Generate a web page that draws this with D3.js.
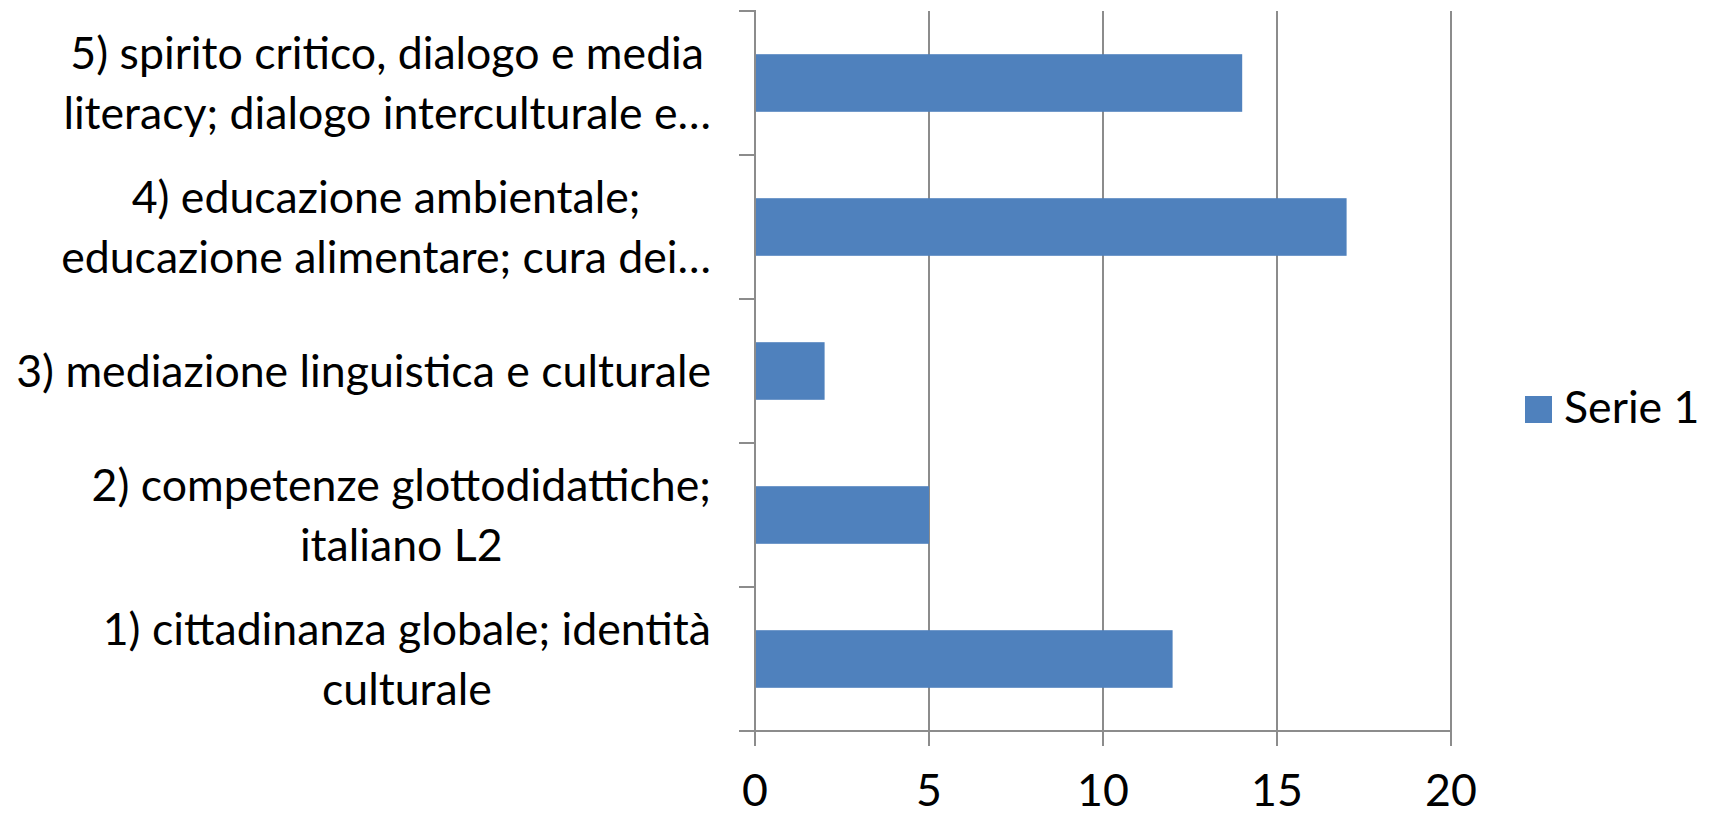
<!DOCTYPE html>
<html>
<head>
<meta charset="utf-8">
<script src="https://cdn.jsdelivr.net/npm/d3@7"></script>
<style>
  body { margin: 0; background: #fff; }
  svg text { font-family: Lato, "Open Sans", sans-serif; fill: #000; }
</style>
</head>
<body>
<div id="chart"></div>
<script>
// data (bottom to top)
var categories = [
  "1) cittadinanza globale; identità\nculturale",
  "2) competenze glottodidattiche;\nitaliano L2",
  "3) mediazione linguistica e culturale",
  "4) educazione ambientale;\neducazione alimentare; cura dei…",
  "5) spirito critico, dialogo e media\nliteracy; dialogo interculturale e…"
];
var serieValues = [12, 5, 2, 17, 14];
var xTicks = [0, 5, 10, 15, 20];
var seriesName = "Serie 1";

var W = 1709, H = 815;
var plot = { left: 755, right: 1451, top: 11, bottom: 731 };
var barColor = "#4F81BD", gridColor = "#8c8c8c";

var svg = d3.select("#chart").append("svg")
  .attr("width", W).attr("height", H);

var x = d3.scaleLinear().domain([0, 20]).range([plot.left, plot.right]);
var y = d3.scaleBand()
  .domain(categories.slice().reverse())
  .range([plot.top, plot.bottom])
  .paddingInner(0.6).paddingOuter(0.3);

// fit font size to the widest label
var probe = svg.append("text").attr("font-size", 40).text("3) mediazione linguistica e culturale");
var fs = 40 * 695 / probe.node().getComputedTextLength();
probe.remove();

function textWidth(s) {
  var t = svg.append("text").attr("font-size", fs).text(s);
  var w = t.node().getComputedTextLength();
  t.remove();
  return w;
}

// vertical gridlines + bottom ticks
svg.append("g").selectAll("line").data(xTicks).enter().append("line")
  .attr("x1", function(d) { return x(d); }).attr("x2", function(d) { return x(d); })
  .attr("y1", function(d) { return d === 0 ? plot.top - 1 : plot.top; })
  .attr("y2", plot.bottom + 15)
  .attr("stroke", gridColor).attr("stroke-width", 2);

// bottom axis line
svg.append("line")
  .attr("x1", plot.left - 16).attr("x2", x(20))
  .attr("y1", plot.bottom).attr("y2", plot.bottom)
  .attr("stroke", gridColor).attr("stroke-width", 2);

// category boundary ticks on the left axis
var step = y.step();
var bounds = categories.map(function(c) { return y(c) - step * 0.3; }).concat([plot.bottom]);
svg.append("g").selectAll("line").data(bounds).enter().append("line")
  .attr("x1", plot.left - 16).attr("x2", plot.left)
  .attr("y1", function(d) { return d; }).attr("y2", function(d) { return d; })
  .attr("stroke", gridColor).attr("stroke-width", 2);

// bars
svg.append("g").selectAll("rect").data(categories).enter().append("rect")
  .attr("x", x(0) + 1)
  .attr("y", function(c) { return y(c); })
  .attr("width", function(c, i) { return x(serieValues[i]) - x(0) - 1; })
  .attr("height", y.bandwidth())
  .attr("fill", barColor);

// x tick labels
svg.append("g").selectAll("text").data(xTicks).enter().append("text")
  .attr("x", function(d) { return x(d); })
  .attr("y", 806)
  .attr("text-anchor", "middle")
  .attr("font-size", fs)
  .text(function(d) { return d; });

// category labels: block right-aligned, lines centred inside the block
var lineH = 60, labelRight = 711;
svg.append("g").selectAll("text").data(categories).enter().append("text")
  .attr("text-anchor", "middle")
  .attr("font-size", fs)
  .each(function(c) {
    var lines = c.split("\n");
    var blockW = d3.max(lines, textWidth);
    var cx = labelRight - blockW / 2;
    var cy = y(c) + y.bandwidth() / 2;
    var t = d3.select(this);
    lines.forEach(function(l, i) {
      t.append("tspan")
        .attr("x", cx)
        .attr("y", cy + (i - (lines.length - 1) / 2) * lineH)
        .attr("dy", "0.35em")
        .text(l);
    });
  });

// legend
var lg = svg.append("g");
lg.append("rect").attr("x", 1525).attr("y", 396).attr("width", 27).attr("height", 27).attr("fill", barColor);
lg.append("text").attr("x", 1564).attr("y", 423).attr("font-size", fs).text(seriesName);
</script>
</body>
</html>
